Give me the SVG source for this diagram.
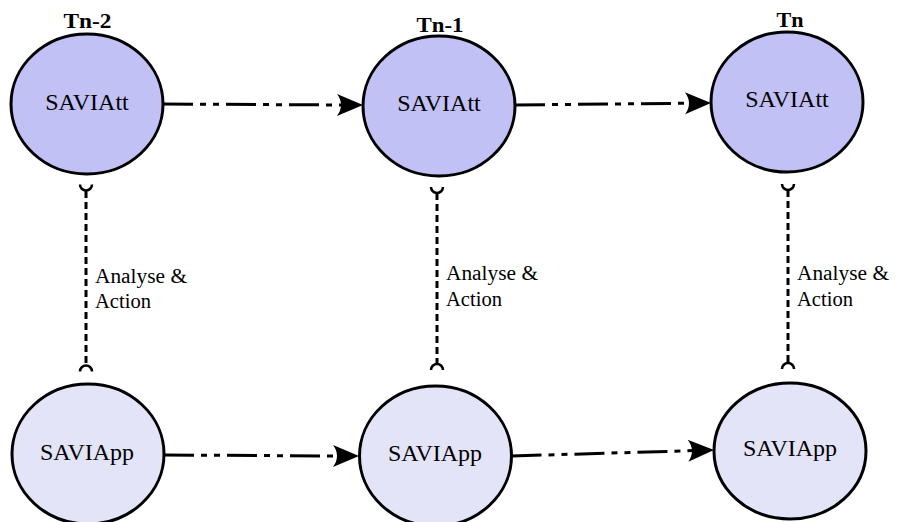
<svg xmlns="http://www.w3.org/2000/svg" width="897" height="522" viewBox="0 0 897 522">
<style>
.att{fill:#c1c1f5;stroke:#000;stroke-width:3}
.app{fill:#e4e4f8;stroke:#000;stroke-width:3}
.nt{font-family:"Liberation Serif","Times New Roman",serif;font-size:24px;text-anchor:middle;fill:#000}
.tl{font-family:"Liberation Serif","Times New Roman",serif;font-size:21px;font-weight:bold;text-anchor:middle;fill:#000}
.lb{font-family:"Liberation Serif","Times New Roman",serif;font-size:20px;fill:#000}
.flow{fill:none;stroke:#000;stroke-width:3;stroke-dasharray:30 7 6 7 6 7;marker-end:url(#ah)}
.vd{fill:none;stroke:#000;stroke-width:3;stroke-dasharray:7 4}
.cap{fill:none;stroke:#000;stroke-width:2.5}
</style>
<defs>
<marker id="ah" viewBox="-27 -12 29 24" refX="-20" refY="0" markerWidth="29" markerHeight="24" markerUnits="userSpaceOnUse" orient="auto">
<path d="M0,0 L-26,-11 Q-18,0 -26,11 Z" fill="#000"/>
</marker>
</defs>
<g id="connectors">
<line class="flow" x1="163" y1="104" x2="343" y2="105"/>
<line class="flow" x1="515" y1="105" x2="691" y2="103.2"/>
<line class="flow" x1="164" y1="455" x2="339" y2="456"/>
<line class="flow" x1="511.5" y1="456" x2="694" y2="450.6"/>
<line class="vd" x1="86" y1="191" x2="86" y2="365"/>
<path class="cap" d="M80,184.5 A6,6 0 0 0 92,184.5"/>
<path class="cap" d="M80,371.5 A6,6 0 0 1 92,371.5"/>
<line class="vd" x1="437" y1="193" x2="437" y2="364"/>
<path class="cap" d="M431,187 A6,6 0 0 0 443,187"/>
<path class="cap" d="M431,370 A6,6 0 0 1 443,370"/>
<line class="vd" x1="788" y1="190" x2="788" y2="363"/>
<path class="cap" d="M782,184 A6,6 0 0 0 794,184"/>
<path class="cap" d="M782,369 A6,6 0 0 1 794,369"/>
<text class="lb" x="95" y="283" textLength="92" lengthAdjust="spacingAndGlyphs">Analyse &amp;</text>
<text class="lb" x="95" y="308" textLength="56" lengthAdjust="spacingAndGlyphs">Action</text>
<text class="lb" x="446" y="280" textLength="92" lengthAdjust="spacingAndGlyphs">Analyse &amp;</text>
<text class="lb" x="446" y="306" textLength="56" lengthAdjust="spacingAndGlyphs">Action</text>
<text class="lb" x="797" y="280" textLength="92" lengthAdjust="spacingAndGlyphs">Analyse &amp;</text>
<text class="lb" x="797" y="306" textLength="56" lengthAdjust="spacingAndGlyphs">Action</text>
</g>
<g id="att1">
<text class="tl" x="87.5" y="28" textLength="48" lengthAdjust="spacingAndGlyphs">Tn-2</text>
<ellipse class="att" cx="87" cy="104" rx="76" ry="70"/>
<text class="nt" x="87" y="110">SAVIAtt</text>
</g>
<g id="att2">
<text class="tl" x="440" y="31.5" textLength="47" lengthAdjust="spacingAndGlyphs">Tn-1</text>
<ellipse class="att" cx="439" cy="106" rx="76" ry="70"/>
<text class="nt" x="439" y="111">SAVIAtt</text>
</g>
<g id="att3">
<text class="tl" x="790" y="27" textLength="27" lengthAdjust="spacingAndGlyphs">Tn</text>
<ellipse class="att" cx="787" cy="102" rx="76" ry="70"/>
<text class="nt" x="787" y="107">SAVIAtt</text>
</g>
<g id="app1">
<ellipse class="app" cx="88" cy="454" rx="76" ry="70"/>
<text class="nt" x="87" y="460">SAVIApp</text>
</g>
<g id="app2">
<ellipse class="app" cx="435.5" cy="456" rx="76" ry="70"/>
<text class="nt" x="435" y="461">SAVIApp</text>
</g>
<g id="app3">
<ellipse class="app" cx="790" cy="451" rx="76" ry="68"/>
<text class="nt" x="790" y="456">SAVIApp</text>
</g>
</svg>
